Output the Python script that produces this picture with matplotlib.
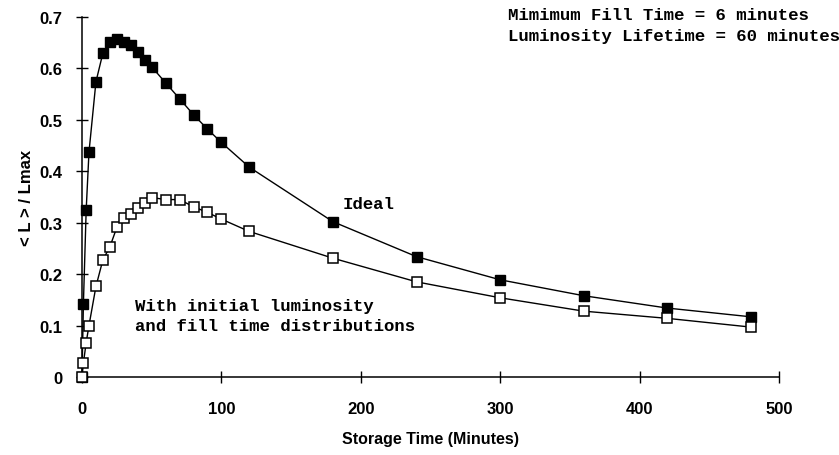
import matplotlib
matplotlib.use("Agg")
import matplotlib.pyplot as plt

# storage time in minutes (same sampling for both curves)
t = [0, 1, 3, 5, 10, 15, 20, 25, 30, 35, 40, 45, 50, 60, 70, 80, 90, 100,
     120, 180, 240, 300, 360, 420, 480]

# ideal case: filled squares
ideal = [0.0, 0.142, 0.325, 0.437, 0.574, 0.630, 0.652, 0.657, 0.652, 0.645,
         0.632, 0.617, 0.603, 0.572, 0.541, 0.510, 0.482, 0.456, 0.408, 0.302,
         0.234, 0.189, 0.158, 0.134, 0.117]

# with initial luminosity and fill time distributions: open squares
dist = [0.0, 0.027, 0.067, 0.100, 0.176, 0.228, 0.253, 0.291, 0.309, 0.317,
        0.328, 0.339, 0.349, 0.345, 0.345, 0.331, 0.320, 0.307, 0.283, 0.231,
        0.185, 0.154, 0.128, 0.114, 0.097]

xticks = [0, 100, 200, 300, 400, 500]
yticks = [0, 0.1, 0.2, 0.3, 0.4, 0.5, 0.6, 0.7]
ytick_labels = ["0", "0.1", "0.2", "0.3", "0.4", "0.5", "0.6", "0.7"]

sans = "Liberation Sans"
mono = "Liberation Mono"

fig = plt.figure(figsize=(8.39, 4.56), dpi=100)
ax = fig.add_axes([82 / 839, 78 / 456, 697 / 839, 360 / 456])

ax.plot(t, ideal, color="black", lw=1.0, marker="s", ms=6.8,
        mfc="black", mec="black", clip_on=False, zorder=3)
ax.plot(t, dist, color="black", lw=1.0, marker="s", ms=6.8,
        mfc="white", mec="black", mew=1.1, clip_on=False, zorder=4)

ax.set_xlim(0, 500)
ax.set_ylim(0, 0.7)
ax.set_xticks(xticks)
ax.set_yticks(yticks)
ax.set_yticklabels(ytick_labels)

for side in ("top", "right"):
    ax.spines[side].set_visible(False)
for side in ("left", "bottom"):
    ax.spines[side].set_linewidth(1.1)

ax.tick_params(axis="both", direction="inout", length=8, width=1, labelsize=12)
ax.tick_params(axis="x", pad=13)
ax.tick_params(axis="y", pad=10)
for lab in ax.get_xticklabels() + ax.get_yticklabels():
    lab.set_fontfamily(sans)
    lab.set_fontweight("bold")

ax.set_xlabel("Storage Time (Minutes)", fontfamily=sans, fontweight="bold",
              fontsize=11.5, labelpad=11)
ax.set_ylabel("< L > / Lmax", fontfamily=sans, fontweight="bold",
              fontsize=12, labelpad=4)

note = dict(fontfamily=mono, fontsize=12.5, fontweight="bold", va="center")
ax.text(187, 0.337, "Ideal", **note)
ax.text(38, 0.139, "With initial luminosity", **note)
ax.text(38, 0.100, "and fill time distributions", **note)
fig.text(508 / 839, 1 - 16 / 456, "Mimimum Fill Time = 6 minutes", **note)
fig.text(508 / 839, 1 - 36 / 456, "Luminosity Lifetime = 60 minutes", **note)

fig.savefig("out.png", dpi=100)
